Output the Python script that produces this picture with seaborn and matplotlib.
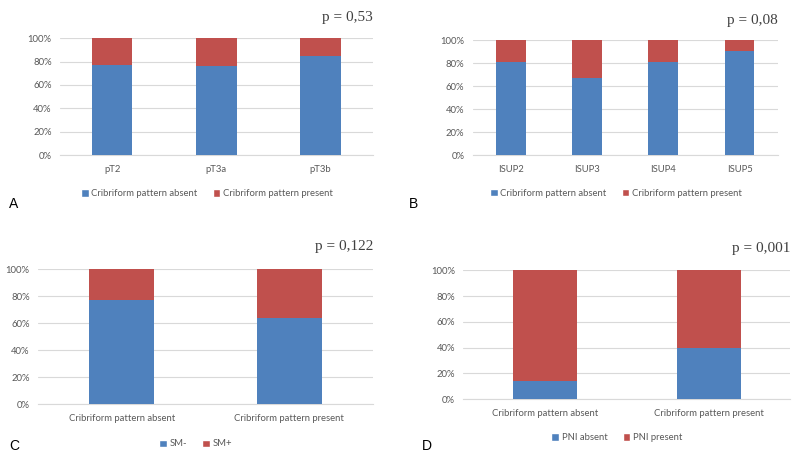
import numpy as np
import pandas as pd
import seaborn as sns
import matplotlib
matplotlib.use('Agg')
import matplotlib.pyplot as plt
from matplotlib.patches import Patch
from matplotlib.ticker import FuncFormatter

# Panel data (percent of each group).
a_cats = ["pT2", "pT3a", "pT3b"]
a_absent = [77.5, 76.5, 85.0]
a_present = [22.5, 23.5, 15.0]

b_cats = ["ISUP2", "ISUP3", "ISUP4", "ISUP5"]
b_absent = [81.0, 67.5, 81.0, 91.0]
b_present = [19.0, 32.5, 19.0, 9.0]

c_cats = ["Cribriform pattern absent", "Cribriform pattern present"]
c_neg = [77.0, 64.0]
c_pos = [23.0, 36.0]

d_cats = ["Cribriform pattern absent", "Cribriform pattern present"]
d_absent = [14.0, 39.5]
d_present = [86.0, 60.5]

BLUE = "#4f81bd"
RED = "#c0504d"
GREY = "#595959"

sns.set_theme(style="white")
plt.rcParams['font.family'] = ['Lato', 'DejaVu Sans']

fig = plt.figure(figsize=(8, 4.55), dpi=100)
fig.patch.set_facecolor("white")

panels = [
    # (cats, lower, upper, labels, rect, p text, letter, letter xy, legend y)
    (a_cats, a_absent, a_present,
     ["Cribriform pattern absent", "Cribriform pattern present"],
     [0.075, 0.659, 0.391, 0.257], "p = 0,53", "A", (0.011, 0.543), -0.22),
    (b_cats, b_absent, b_present,
     ["Cribriform pattern absent", "Cribriform pattern present"],
     [0.591, 0.659, 0.381, 0.252], "p = 0,08", "B", (0.511, 0.543), -0.22),
    (c_cats, c_neg, c_pos, ["SM-", "SM+"],
     [0.0475, 0.112, 0.419, 0.296], "p = 0,122", "C", (0.011, 0.012), -0.2),
    (d_cats, d_absent, d_present, ["PNI absent", "PNI present"],
     [0.579, 0.123, 0.409, 0.283], "p = 0,001", "D", (0.527, 0.012), -0.2),
]

for cats, lower, upper, labels, rect, ptext, letter, lxy, legy in panels:
    ax = fig.add_axes(rect)
    df = pd.DataFrame({"cat": cats, "lower": lower, "upper": upper})
    df["total"] = df["lower"] + df["upper"]

    ax.yaxis.grid(True, color="#d9d9d9", linewidth=0.8)
    ax.set_axisbelow(True)
    sns.barplot(data=df, x="cat", y="total", color=RED, width=0.39,
                saturation=1, linewidth=0, edgecolor="none", ax=ax, zorder=2)
    sns.barplot(data=df, x="cat", y="lower", color=BLUE, width=0.39,
                saturation=1, linewidth=0, edgecolor="none", ax=ax, zorder=3)

    ax.set_ylim(0, 100)
    ax.set_xlim(-0.5, len(cats) - 0.5)
    ax.set_yticks(np.arange(0, 101, 20))
    ax.yaxis.set_major_formatter(FuncFormatter(lambda v, _: "{:.0f}%".format(v)))
    ax.set_xlabel("")
    ax.set_ylabel("")
    for s in ["top", "right", "left"]:
        ax.spines[s].set_visible(False)
    ax.spines["bottom"].set_color("#d9d9d9")
    ax.spines["bottom"].set_linewidth(0.8)
    ax.tick_params(axis="both", length=0, labelsize=6.8, labelcolor=GREY)
    ax.tick_params(axis="y", pad=6)
    ax.tick_params(axis="x", pad=7)

    ax.text(1.0, 1.12, ptext, transform=ax.transAxes, ha="right", va="bottom",
            fontsize=11, color="#404040", family=["Liberation Serif", "DejaVu Serif"])

    handles = [Patch(facecolor=BLUE, label=labels[0]),
               Patch(facecolor=RED, label=labels[1])]
    ax.legend(handles=handles, loc="upper center", bbox_to_anchor=(0.47, legy),
              ncol=2, frameon=False, fontsize=6.8, labelcolor=GREY,
              handlelength=0.8, handleheight=0.8, handletextpad=0.3,
              columnspacing=1.6)

    fig.text(lxy[0], lxy[1], letter, fontsize=10, color="black",
             family=["Liberation Sans", "DejaVu Sans"])

fig.savefig("out.png", dpi=100, facecolor="white")
